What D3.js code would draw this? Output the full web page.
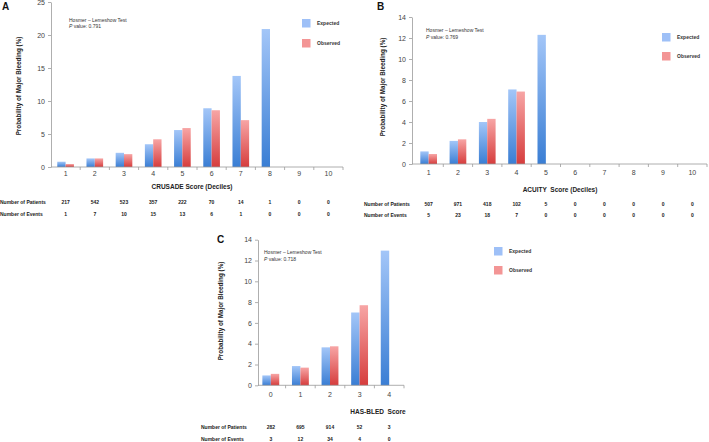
<!DOCTYPE html>
<html><head><meta charset="utf-8">
<script src="https://cdn.jsdelivr.net/npm/d3@7"></script>
<style>
html,body{margin:0;padding:0;background:#fff;}
svg{display:block;font-family:"Liberation Sans",Arial,Helvetica,sans-serif;}
</style></head>
<body><svg id="chart" width="709" height="442"></svg>
<script>
// ---- Data ----
const seriesNames = ["Expected", "Observed"];

const catsA = ["1","2","3","4","5","6","7","8","9","10"];
const expectedA = [0.8, 1.3, 2.15, 3.45, 5.6, 8.9, 13.8, 20.9, 0, 0];
const observedA = [0.45, 1.3, 1.95, 4.2, 5.9, 8.6, 7.1, 0, 0, 0];
const patientsA = [217, 542, 523, 357, 222, 70, 14, 1, 0, 0];
const eventsA = [1, 7, 10, 15, 13, 6, 1, 0, 0, 0];
const yTicksA = [0, 5, 10, 15, 20, 25];

const catsB = ["1","2","3","4","5","6","7","8","9","10"];
const expectedB = [1.2, 2.2, 4.0, 7.1, 12.3, 0, 0, 0, 0, 0];
const observedB = [0.95, 2.35, 4.3, 6.9, 0, 0, 0, 0, 0, 0];
const patientsB = [507, 971, 418, 102, 5, 0, 0, 0, 0, 0];
const eventsB = [5, 23, 18, 7, 0, 0, 0, 0, 0, 0];
const yTicksB = [0, 2, 4, 6, 8, 10, 12, 14];

const catsC = ["0","1","2","3","4"];
const expectedC = [0.95, 1.85, 3.65, 7.0, 12.95];
const observedC = [1.1, 1.7, 3.75, 7.7, 0];
const patientsC = [282, 695, 914, 52, 3];
const eventsC = [3, 12, 34, 4, 0];
const yTicksC = [0, 2, 4, 6, 8, 10, 12, 14];

const svg = d3.select("#chart");
const defs = svg.append("defs");
function grad(id, top, bottom) {
  const g = defs.append("linearGradient").attr("id", id)
    .attr("x1", 0).attr("y1", 0).attr("x2", 0).attr("y2", 1);
  g.append("stop").attr("offset", "0%").attr("stop-color", top);
  g.append("stop").attr("offset", "100%").attr("stop-color", bottom);
}
grad("gBlue", "#a3c6f8", "#3a7ed4");
grad("gRed", "#f7a5a5", "#d63d3d");
const fills = {Expected: "url(#gBlue)", Observed: "url(#gRed)"};
const legendFills = {Expected: "#9ec0f7", Observed: "#f39595"};

function panel(cfg) {
  const g = svg.append("g");
  const x = d3.scaleBand().domain(cfg.cats).range(cfg.xRange).paddingInner(0.43).paddingOuter(0.215);
  const y = d3.scaleLinear().domain([0, cfg.yMax]).range(cfg.yRange);
  const x1 = d3.scaleBand().domain(seriesNames).range([0, x.bandwidth()]);
  const step = x.step();

  // bars
  cfg.cats.forEach((c, i) => {
    const vals = {Expected: cfg.expected[i], Observed: cfg.observed[i]};
    seriesNames.forEach(s => {
      if (vals[s] > 0) {
        g.append("rect")
          .attr("x", x(c) + x1(s))
          .attr("y", y(vals[s]))
          .attr("width", x1.bandwidth())
          .attr("height", y(0) - y(vals[s]))
          .attr("fill", fills[s]);
      }
    });
  });

  // y axis
  const ya = g.append("g").attr("transform", `translate(${cfg.xAxisStart},0)`)
    .call(d3.axisLeft(y).tickValues(cfg.yTicks).tickSize(3).tickSizeOuter(0).tickPadding(3));
  ya.select(".domain").attr("stroke", "#9a9a9a").attr("stroke-width", 0.8);
  ya.selectAll(".tick line").attr("stroke", "#9a9a9a").attr("stroke-width", 0.8);
  ya.selectAll(".tick text").attr("fill", "#444").attr("font-size", 7);

  // x axis
  const y0 = y(0);
  g.append("line").attr("x1", cfg.xAxisStart).attr("x2", cfg.xAxisEnd)
    .attr("y1", y0).attr("y2", y0).attr("stroke", "#9a9a9a").attr("stroke-width", 0.8);
  cfg.cats.forEach((c, i) => {
    const xb = x.range()[0] + i * step;
    if (i > 0) g.append("line").attr("x1", xb).attr("x2", xb)
      .attr("y1", y0).attr("y2", y0 + 3).attr("stroke", "#9a9a9a").attr("stroke-width", 0.8);
    g.append("text").attr("x", x(c) + x.bandwidth() / 2).attr("y", y0 + cfg.tickLabelDy)
      .attr("text-anchor", "middle").attr("font-size", 7).attr("fill", "#444").text(c);
  });
  const xe = x.range()[1];
  g.append("line").attr("x1", xe).attr("x2", xe)
    .attr("y1", y0).attr("y2", y0 + 3).attr("stroke", "#9a9a9a").attr("stroke-width", 0.8);

  // titles
  g.append("text").attr("transform", `translate(${cfg.yLabelPos[0]},${cfg.yLabelPos[1]}) rotate(-90)`)
    .attr("text-anchor", "middle").attr("font-size", 6.3).attr("font-weight", "bold").attr("fill", "#222")
    .text("Probability of Major Bleeding (%)");
  g.append("text").attr("x", cfg.xTitlePos[0]).attr("y", cfg.xTitlePos[1])
    .attr("text-anchor", "middle").attr("font-size", 6.5).attr("font-weight", "bold").attr("fill", "#222")
    .attr("xml:space", "preserve").text(cfg.xTitle);
  g.append("text").attr("x", cfg.letterPos[0]).attr("y", cfg.letterPos[1])
    .attr("font-size", 10).attr("font-weight", "bold").attr("fill", "#111").text(cfg.letter);

  // Hosmer-Lemeshow
  g.append("text").attr("x", cfg.hlPos[0]).attr("y", cfg.hlPos[1])
    .attr("font-size", 5).attr("fill", "#333").text("Hosmer \u2013 Lemeshow Test");
  const pt = g.append("text").attr("x", cfg.hlPos[0]).attr("y", cfg.hlPos[1] + 6.5)
    .attr("font-size", 5).attr("fill", "#333");
  pt.append("tspan").attr("font-style", "italic").text("P");
  pt.append("tspan").text(" value: " + cfg.pValue);

  // legend
  seriesNames.forEach((s, i) => {
    const ly = cfg.legendPos[1] + i * cfg.legendGap;
    g.append("rect").attr("x", cfg.legendPos[0]).attr("y", ly).attr("width", 8.5).attr("height", 8.5)
      .attr("fill", legendFills[s]);
    g.append("text").attr("x", cfg.legendPos[0] + 15).attr("y", ly + 6)
      .attr("font-size", 5).attr("font-weight", "bold").attr("fill", "#333").text(s);
  });

  // table
  const rows = [["Number of Patients", cfg.patients], ["Number of Events", cfg.events]];
  rows.forEach((r, ri) => {
    const ty = cfg.tablePos[1] + ri * cfg.tableGap;
    g.append("text").attr("x", cfg.tablePos[0]).attr("y", ty)
      .attr("font-size", 5).attr("font-weight", "bold").attr("fill", "#222").text(r[0]);
    cfg.cats.forEach((c, i) => {
      g.append("text").attr("x", x(c) + x.bandwidth() / 2).attr("y", ty)
        .attr("text-anchor", "middle").attr("font-size", 5).attr("font-weight", "bold").attr("fill", "#222")
        .text(r[1][i]);
    });
  });
}

panel({
  cats: catsA, expected: expectedA, observed: observedA, patients: patientsA, events: eventsA,
  yTicks: yTicksA, yMax: 25, xRange: [51, 343], yRange: [167, 2], xAxisStart: 51, xAxisEnd: 343,
  tickLabelDy: 9, yLabelPos: [21, 86], xTitlePos: [192, 189], xTitle: "CRUSADE Score (Deciles)",
  letter: "A", letterPos: [2, 10], hlPos: [69, 21.5], pValue: "0.791",
  legendPos: [302, 19], legendGap: 20, tablePos: [0, 203.5], tableGap: 12.5
});

panel({
  cats: catsB, expected: expectedB, observed: observedB, patients: patientsB, events: eventsB,
  yTicks: yTicksB, yMax: 14, xRange: [414, 707], yRange: [164, 17], xAxisStart: 412, xAxisEnd: 707,
  tickLabelDy: 10.5, yLabelPos: [385, 87], xTitlePos: [560, 192], xTitle: "ACUITY  Score (Deciles)",
  letter: "B", letterPos: [377, 10], hlPos: [426, 32], pValue: "0.769",
  legendPos: [662, 33], legendGap: 19, tablePos: [364, 206], tableGap: 10.5
});

panel({
  cats: catsC, expected: expectedC, observed: observedC, patients: patientsC, events: eventsC,
  yTicks: yTicksC, yMax: 14, xRange: [256, 404], yRange: [385.3, 239.7], xAxisStart: 258, xAxisEnd: 404,
  tickLabelDy: 11.5, yLabelPos: [223, 311], xTitlePos: [378, 414], xTitle: "HAS-BLED  Score",
  letter: "C", letterPos: [217, 243], hlPos: [264, 254], pValue: "0.718",
  legendPos: [494, 247], legendGap: 19, tablePos: [201, 429], tableGap: 12
});
</script>
</body></html>
